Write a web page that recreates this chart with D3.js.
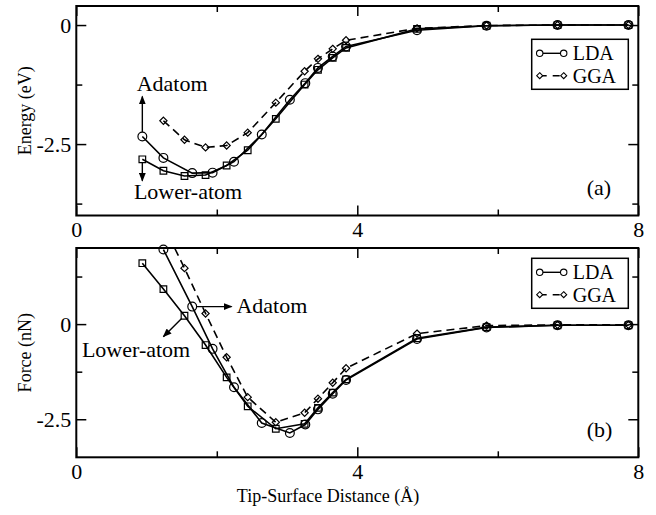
<!DOCTYPE html>
<html>
<head>
<meta charset="utf-8">
<script src="https://cdn.jsdelivr.net/npm/d3@7"></script>
<style>
  body { margin: 0; background: #fff; }
  svg text { font-family: "Liberation Serif", "Times New Roman", serif; fill: #000; }
</style>
</head>
<body>
<svg id="chart" width="656" height="515"></svg>
<script>
// tip-surface distances (Å) for each set of points
const distAdatom = [0.94, 1.24, 1.65, 1.94, 2.245, 2.64, 3.04, 3.26, 3.44, 3.65, 3.84, 4.85, 5.84, 6.85, 7.86];
const distLower  = [0.94, 1.24, 1.54, 1.84, 2.14, 2.44, 2.84, 3.25, 3.44, 3.65, 3.84, 4.85, 5.84, 6.85, 7.86];
const distGGA    = [1.24, 1.54, 1.84, 2.14, 2.44, 2.84, 3.25, 3.44, 3.65, 3.84, 4.85, 5.84, 6.85, 7.86];

// (a) energy (eV)
const energyAdatomLDA = [-2.34, -2.79, -3.11, -3.10, -2.87, -2.30, -1.57, -1.22, -0.90, -0.66, -0.45, -0.11, -0.015, 0, 0];
const energyLowerLDA  = [-2.82, -3.06, -3.17, -3.15, -2.95, -2.63, -1.97, -1.25, -0.94, -0.69, -0.48, -0.08, -0.015, 0, 0];
const energyGGA       = [-2.01, -2.41, -2.57, -2.53, -2.26, -1.63, -0.97, -0.71, -0.50, -0.32, -0.07, -0.01, 0, 0];

// (b) force (nN); first adatom point is off the chart
const forceAdatomLDA = [null, 1.96, 0.46, -0.65, -1.66, -2.60, -2.86, -2.64, -2.24, -1.83, -1.47, -0.39, -0.09, -0.03, -0.03];
const forceLowerLDA  = [1.60, 0.92, 0.22, -0.55, -1.40, -2.16, -2.75, -2.62, -2.20, -1.80, -1.45, -0.37, -0.08, -0.03, -0.03];
const forceGGA       = [2.6, 1.47, 0.28, -0.87, -1.92, -2.58, -2.33, -1.96, -1.54, -1.16, -0.25, -0.04, -0.02, -0.02];

// ticks and labels
const xMajor = [0, 4, 8];
const xMinor = [2, 6];
const energyMajor = [-2.5, 0];
const energyMinor = [-3.75, -1.25];
const forceMajor = [-2.5, 0];
const forceMinor = [-1.25, 1.25];
const legendLabels = ["LDA", "GGA"];
const xTitle = "Tip-Surface Distance (\u00c5)";

const svg = d3.select("#chart");
const FONT = '"Liberation Serif", "Times New Roman", serif';
const x = d3.scaleLinear().domain([0, 8]).range([76.3, 638.3]);

svg.append("defs").append("marker")
    .attr("id", "arrow")
    .attr("markerUnits", "userSpaceOnUse")
    .attr("markerWidth", 9).attr("markerHeight", 7)
    .attr("refX", 8).attr("refY", 3.5)
    .attr("orient", "auto")
    .append("path")
    .attr("d", "M0,0 L9,3.5 L0,7 z")
    .attr("fill", "#000");

const zip = (xs, ys) => xs.map((d, i) => [d, ys[i]]);

const panels = [
    {
        id: "a", title: "Energy (eV)", tag: "(a)",
        domain: [-4, 0.4], range: [215.5, 6],
        major: energyMajor, minor: energyMinor,
        series: [
            {values: zip(distAdatom, energyAdatomLDA), symbol: "circle", dash: null},
            {values: zip(distLower, energyLowerLDA), symbol: "square", dash: null},
            {values: zip(distGGA, energyGGA), symbol: "diamond", dash: "8,5"}
        ],
        legendY: 39.3, tagY: 195,
        arrows: [
            {from: [0.94, -2.34], to: [0.94, -1.5], gap: 4.5},
            {from: [0.94, -2.82], to: [0.94, -3.27], gap: 3.5}
        ],
        notes: [
            {text: "Adatom", at: [0.86, -1.39]},
            {text: "Lower-atom", at: [0.82, -3.66]}
        ]
    },
    {
        id: "b", title: "Force (nN)", tag: "(b)",
        domain: [-3.5, 2], range: [457.3, 248],
        major: forceMajor, minor: forceMinor,
        series: [
            {values: zip(distAdatom, forceAdatomLDA), symbol: "circle", dash: null},
            {values: zip(distLower, forceLowerLDA), symbol: "square", dash: null},
            {values: zip(distGGA, forceGGA), symbol: "diamond", dash: "8,5"}
        ],
        legendY: 258.3, tagY: 437,
        arrows: [
            {from: [1.64, 0.46], to: [2.21, 0.46], gap: 4.5},
            {from: [1.54, 0.22], to: [1.24, -0.33], gap: 4}
        ],
        notes: [
            {text: "Adatom", at: [2.28, 0.28]},
            {text: "Lower-atom", at: [0.08, -0.87]}
        ]
    }
];

function symbolPath(type, size) {
    if (type === "circle") return d3.symbol(d3.symbolCircle, Math.PI * size * size)();
    if (type === "square") return d3.symbol(d3.symbolSquare, (size * 1.5) * (size * 1.5))();
    // diamond: half diagonal = size
    return `M0,${-size}L${size},0L0,${size}L${-size},0Z`;
}

function styleAxis(g) {
    g.select(".domain").remove();
    g.attr("font-family", FONT).attr("font-size", 22);
    g.selectAll("line").attr("stroke", "#000").attr("stroke-width", 1.5);
    g.selectAll("text").attr("fill", "#000");
}

function drawPanel(p) {
    const y = d3.scaleLinear().domain(p.domain).range(p.range);
    const [x0, x1] = x.range();
    const top = p.range[1], bottom = p.range[0];
    const g = svg.append("g");

    svg.select("defs").append("clipPath").attr("id", "clip-" + p.id)
        .append("rect")
        .attr("x", x0).attr("y", top)
        .attr("width", x1 - x0).attr("height", bottom - top);

    // ticks point inwards, mirrored on all four sides
    const fmt = d => d === 0 ? "0" : String(d);
    g.append("g").attr("transform", `translate(0,${bottom})`)
        .call(d3.axisBottom(x).tickValues(xMajor).tickSize(-10).tickPadding(6).tickFormat(fmt)).call(styleAxis);
    g.append("g").attr("transform", `translate(0,${bottom})`)
        .call(d3.axisBottom(x).tickValues(xMinor).tickSize(-6).tickFormat("")).call(styleAxis);
    g.append("g").attr("transform", `translate(0,${top})`)
        .call(d3.axisTop(x).tickValues(xMajor).tickSize(-10).tickFormat("")).call(styleAxis);
    g.append("g").attr("transform", `translate(0,${top})`)
        .call(d3.axisTop(x).tickValues(xMinor).tickSize(-6).tickFormat("")).call(styleAxis);

    g.append("g").attr("transform", `translate(${x0},0)`)
        .call(d3.axisLeft(y).tickValues(p.major).tickSize(-10).tickPadding(5).tickFormat(fmt)).call(styleAxis);
    g.append("g").attr("transform", `translate(${x0},0)`)
        .call(d3.axisLeft(y).tickValues(p.minor).tickSize(-6).tickFormat("")).call(styleAxis);
    g.append("g").attr("transform", `translate(${x1},0)`)
        .call(d3.axisRight(y).tickValues(p.major).tickSize(-10).tickFormat("")).call(styleAxis);
    g.append("g").attr("transform", `translate(${x1},0)`)
        .call(d3.axisRight(y).tickValues(p.minor).tickSize(-6).tickFormat("")).call(styleAxis);

    g.append("rect")
        .attr("x", x0).attr("y", top)
        .attr("width", x1 - x0).attr("height", bottom - top)
        .attr("fill", "none").attr("stroke", "#000").attr("stroke-width", 2);

    // y title
    g.append("text")
        .attr("transform", `translate(31,${(top + bottom) / 2}) rotate(-90)`)
        .attr("text-anchor", "middle")
        .style("font-size", "18px")
        .text(p.title);

    // data
    const line = d3.line()
        .defined(d => d[1] !== null)
        .x(d => x(d[0])).y(d => y(d[1]));

    const data = g.append("g");
    p.series.forEach(s => {
        data.append("path")
            .datum(s.values)
            .attr("clip-path", `url(#clip-${p.id})`)
            .attr("d", line)
            .attr("fill", "none")
            .attr("stroke", "#000")
            .attr("stroke-width", 1.6)
            .attr("stroke-dasharray", s.dash);

        const size = s.symbol === "circle" ? 4.4 : s.symbol === "square" ? 4.4 : 3.6;
        data.append("g").selectAll("path")
            .data(s.values.filter(d => d[1] !== null && d[1] <= p.domain[1] + 0.05 && d[1] >= p.domain[0]))
            .join("path")
            .attr("transform", d => `translate(${x(d[0])},${y(d[1])})`)
            .attr("d", symbolPath(s.symbol, size))
            .attr("fill", "none")
            .attr("stroke", "#000")
            .attr("stroke-width", 1.2);
    });

    // arrows and their labels
    p.arrows.forEach(a => {
        const sx = x(a.from[0]), sy = y(a.from[1]);
        const ex = x(a.to[0]), ey = y(a.to[1]);
        const len = Math.hypot(ex - sx, ey - sy);
        g.append("line")
            .attr("x1", sx + (ex - sx) / len * a.gap)
            .attr("y1", sy + (ey - sy) / len * a.gap)
            .attr("x2", ex).attr("y2", ey)
            .attr("stroke", "#000").attr("stroke-width", 1.4)
            .attr("marker-end", "url(#arrow)");
    });
    p.notes.forEach(n => {
        g.append("text")
            .attr("x", x(n.at[0])).attr("y", y(n.at[1]))
            .style("font-size", "22px")
            .text(n.text);
    });

    // legend
    const lx = 531.7, lw = 96.6, lh = 50;
    const leg = g.append("g");
    leg.append("rect")
        .attr("x", lx).attr("y", p.legendY)
        .attr("width", lw).attr("height", lh)
        .attr("fill", "#fff").attr("stroke", "#000").attr("stroke-width", 1.5);
    const legSeries = [p.series[0], p.series[2]];
    legendLabels.forEach((label, i) => {
        const base = p.legendY + 21 + i * 22.4;
        const my = base - 7;
        const s = legSeries[i];
        leg.append("line")
            .attr("x1", lx + 8).attr("x2", lx + 32)
            .attr("y1", my).attr("y2", my)
            .attr("stroke", "#000").attr("stroke-width", 1.4)
            .attr("stroke-dasharray", s.dash ? "7,6" : null);
        [lx + 8, lx + 32].forEach(cx => {
            leg.append("path")
                .attr("transform", `translate(${cx},${my})`)
                .attr("d", symbolPath(s.symbol, s.symbol === "circle" ? 3.2 : 3))
                .attr("fill", "#fff").attr("stroke", "#000").attr("stroke-width", 1.1);
        });
        leg.append("text")
            .attr("x", lx + 41).attr("y", base)
            .style("font-size", "20px")
            .text(label);
    });

    g.append("text")
        .attr("x", 586.7).attr("y", p.tagY)
        .style("font-size", "22px")
        .text(p.tag);
}

panels.forEach(drawPanel);

svg.append("text")
    .attr("x", 328)
    .attr("y", 502)
    .attr("text-anchor", "middle")
    .style("font-size", "18px")
    .text(xTitle);
</script>
</body>
</html>
